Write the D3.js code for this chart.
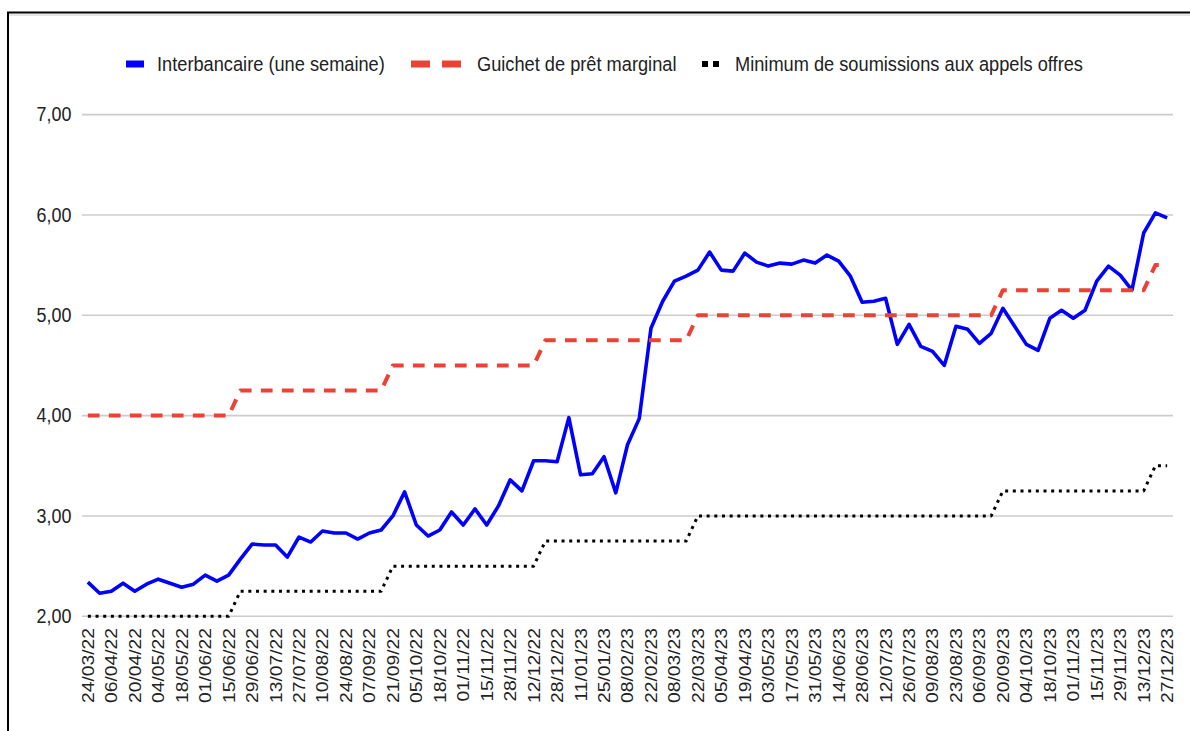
<!DOCTYPE html>
<meta charset="utf-8" />
<script src="https://d3js.org/d3.v7.min.js"></script>
<body style="margin:0;background:#fff">
<svg id="chart" width="1190" height="731" style="display:block"></svg>
<script>
/* DATA -------------------------------------------------------------------- */
const dates=[
 "24/03/22","31/03/22","06/04/22","13/04/22","20/04/22","27/04/22","04/05/22","11/05/22",
 "18/05/22","25/05/22","01/06/22","08/06/22","15/06/22","22/06/22","29/06/22","06/07/22",
 "13/07/22","20/07/22","27/07/22","03/08/22","10/08/22","17/08/22","24/08/22","31/08/22",
 "07/09/22","14/09/22","21/09/22","28/09/22","05/10/22","12/10/22","18/10/22","25/10/22",
 "01/11/22","08/11/22","15/11/22","22/11/22","28/11/22","05/12/22","12/12/22","20/12/22",
 "28/12/22","04/01/23","11/01/23","18/01/23","25/01/23","01/02/23","08/02/23","15/02/23",
 "22/02/23","01/03/23","08/03/23","15/03/23","22/03/23","29/03/23","05/04/23","12/04/23",
 "19/04/23","26/04/23","03/05/23","10/05/23","17/05/23","24/05/23","31/05/23","07/06/23",
 "14/06/23","21/06/23","28/06/23","05/07/23","12/07/23","19/07/23","26/07/23","02/08/23",
 "09/08/23","16/08/23","23/08/23","30/08/23","06/09/23","13/09/23","20/09/23","27/09/23",
 "04/10/23","11/10/23","18/10/23","25/10/23","01/11/23","08/11/23","15/11/23","22/11/23",
 "29/11/23","06/12/23","13/12/23","20/12/23","27/12/23"
];
const interbancaire=[
 2.34,2.23,2.25,2.33,2.25,2.32,2.37,2.33,2.29,2.32,2.41,2.35,2.41,2.57,2.72,2.71,
 2.71,2.59,2.79,2.74,2.85,2.83,2.83,2.77,2.83,2.86,3.00,3.24,2.91,2.80,2.86,3.04,
 2.91,3.07,2.91,3.10,3.36,3.25,3.55,3.55,3.54,3.98,3.41,3.42,3.59,3.23,3.71,3.97,
 4.87,5.14,5.34,5.39,5.45,5.63,5.45,5.44,5.62,5.53,5.49,5.52,5.51,5.55,5.52,5.60,
 5.54,5.39,5.13,5.14,5.17,4.71,4.91,4.69,4.64,4.50,4.89,4.86,4.72,4.82,5.07,4.89,
 4.71,4.65,4.97,5.05,4.97,5.05,5.34,5.49,5.40,5.25,5.82,6.02,5.97
];
const guichet=[
 4.00,4.00,4.00,4.00,4.00,4.00,4.00,4.00,4.00,4.00,4.00,4.00,4.00,
 4.25,4.25,4.25,4.25,4.25,4.25,4.25,4.25,4.25,4.25,4.25,4.25,4.25,
 4.50,4.50,4.50,4.50,4.50,4.50,4.50,4.50,4.50,4.50,4.50,4.50,4.50,
 4.75,4.75,4.75,4.75,4.75,4.75,4.75,4.75,4.75,4.75,4.75,4.75,4.75,
 5.00,5.00,5.00,5.00,5.00,5.00,5.00,5.00,5.00,5.00,5.00,5.00,5.00,
 5.00,5.00,5.00,5.00,5.00,5.00,5.00,5.00,5.00,5.00,5.00,5.00,5.00,
 5.25,5.25,5.25,5.25,5.25,5.25,5.25,5.25,5.25,5.25,5.25,5.25,5.25,
 5.50,5.50
];
const minimum=[
 2.00,2.00,2.00,2.00,2.00,2.00,2.00,2.00,2.00,2.00,2.00,2.00,2.00,
 2.25,2.25,2.25,2.25,2.25,2.25,2.25,2.25,2.25,2.25,2.25,2.25,2.25,
 2.50,2.50,2.50,2.50,2.50,2.50,2.50,2.50,2.50,2.50,2.50,2.50,2.50,
 2.75,2.75,2.75,2.75,2.75,2.75,2.75,2.75,2.75,2.75,2.75,2.75,2.75,
 3.00,3.00,3.00,3.00,3.00,3.00,3.00,3.00,3.00,3.00,3.00,3.00,3.00,
 3.00,3.00,3.00,3.00,3.00,3.00,3.00,3.00,3.00,3.00,3.00,3.00,3.00,
 3.25,3.25,3.25,3.25,3.25,3.25,3.25,3.25,3.25,3.25,3.25,3.25,3.25,
 3.50,3.50
];
const yTicks=[2,3,4,5,6,7];
const seriesNames=["Interbancaire (une semaine)","Guichet de prêt marginal","Minimum de soumissions aux appels offres"];

/* CONFIG ------------------------------------------------------------------ */
const font="'Liberation Sans',Arial,sans-serif";
const plotL=82,plotR=1173,plotT=114.6,plotB=616.3;
const squeeze=0.92;   // text in the picture is slightly narrow

const svg=d3.select("#chart").style("font-family",font);

// frame (only top/left edges visible in the picture)
svg.append("line").attr("x1",9).attr("x2",1190).attr("y1",15).attr("y2",15)
   .attr("stroke","#ddd").attr("stroke-width",1.5);
svg.append("rect").attr("x",8).attr("y",12.5).attr("width",1300).attr("height",900)
   .attr("fill","none").attr("stroke","#000").attr("stroke-width",2);

const x=d3.scalePoint().domain(d3.range(dates.length)).range([plotL,plotR]).padding(0.5);
const y=d3.scaleLinear().domain([2,7]).range([plotB,plotT]);
const fmt=v=>d3.format(".2f")(v).replace(".",",");

/* grid + y labels */
const g=svg.append("g");
g.selectAll("line.grid").data(yTicks).join("line").attr("class","grid")
  .attr("x1",plotL).attr("x2",plotR).attr("y1",d=>y(d)).attr("y2",d=>y(d))
  .attr("stroke","#cccccc").attr("stroke-width",1.6);
g.selectAll("text.ylab").data(yTicks).join("text").attr("class","ylab")
  .attr("transform",d=>`translate(71.5,${y(d)}) scale(${squeeze},1)`)
  .attr("dy","0.35em").attr("text-anchor","end")
  .attr("font-size",19.5).attr("fill","#222").text(fmt);

/* x labels, every other week */
g.selectAll("text.xlab").data(d3.range(0,dates.length,2)).join("text").attr("class","xlab")
  .attr("transform",i=>`translate(${x(i)},628) rotate(-90) scale(1,0.88)`)
  .attr("dy","0.35em").attr("text-anchor","end")
  .attr("font-size",19.3).attr("fill","#222").text(i=>dates[i]);

/* lines */
const line=d3.line().x((d,i)=>x(i)).y(d=>y(d));
const styles=[
  {data:interbancaire,color:"#0000ff",w:3.6,dash:null},
  {data:guichet,color:"#ea4335",w:4,dash:"11.7,9.3"},
  {data:minimum,color:"#000",w:3,dash:"3,4.67"}
];
styles.forEach(s=>{
  svg.append("path").attr("d",line(s.data)).attr("fill","none")
    .attr("stroke",s.color).attr("stroke-width",s.w)
    .attr("stroke-linejoin","round")
    .attr("stroke-dasharray",s.dash);
});

/* legend */
const lg=svg.append("g").attr("font-size",19.5).attr("fill","#222");
const ly=64;
const ltext=(xx,t)=>lg.append("text")
  .attr("transform",`translate(${xx},${ly}) scale(0.935,1)`).attr("dy","0.35em").text(t);
lg.append("rect").attr("x",126).attr("y",ly-3.5).attr("width",18).attr("height",7).attr("fill","#0000ff");
ltext(157,seriesNames[0]);
[411,442].forEach(xx=>lg.append("rect").attr("x",xx).attr("y",ly-3.5).attr("width",19).attr("height",7).attr("fill","#ea4335"));
ltext(477,seriesNames[1]);
[702,713].forEach(xx=>lg.append("rect").attr("x",xx).attr("y",ly-3).attr("width",6).attr("height",6).attr("fill","#000"));
ltext(735,seriesNames[2]);
</script>
</body>
